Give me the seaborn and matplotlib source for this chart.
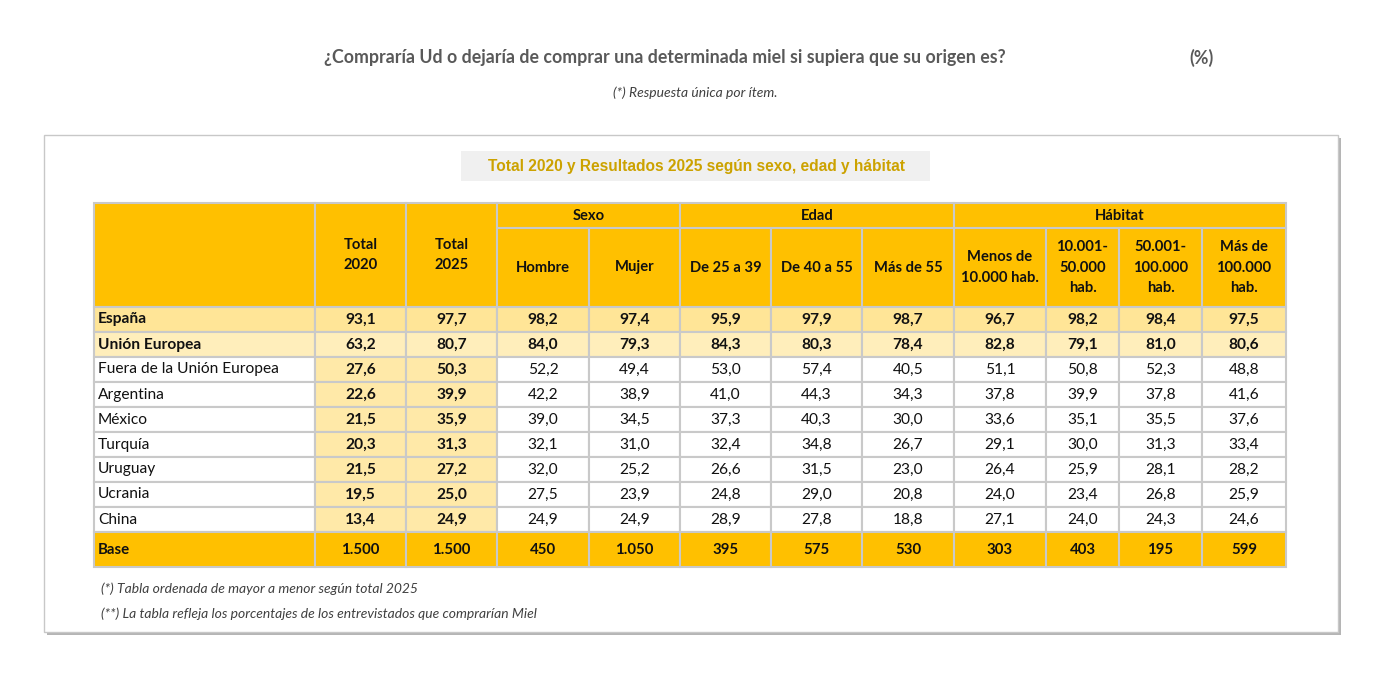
import matplotlib
matplotlib.use("Agg")
import matplotlib.pyplot as plt
from matplotlib.patches import Rectangle
import seaborn as sns

# Datos de la tabla
filas = ["España", "Unión Europea", "Fuera de la Unión Europea", "Argentina",
         "México", "Turquía", "Uruguay", "Ucrania", "China"]
total_2020 = [93.1, 63.2, 27.6, 22.6, 21.5, 20.3, 21.5, 19.5, 13.4]
total_2025 = [97.7, 80.7, 50.3, 39.9, 35.9, 31.3, 27.2, 25.0, 24.9]
hombre = [98.2, 84.0, 52.2, 42.2, 39.0, 32.1, 32.0, 27.5, 24.9]
mujer = [97.4, 79.3, 49.4, 38.9, 34.5, 31.0, 25.2, 23.9, 24.9]
edad_25_39 = [95.9, 84.3, 53.0, 41.0, 37.3, 32.4, 26.6, 24.8, 28.9]
edad_40_55 = [97.9, 80.3, 57.4, 44.3, 40.3, 34.8, 31.5, 29.0, 27.8]
edad_mas_55 = [98.7, 78.4, 40.5, 34.3, 30.0, 26.7, 23.0, 20.8, 18.8]
hab_menos_10 = [96.7, 82.8, 51.1, 37.8, 33.6, 29.1, 26.4, 24.0, 27.1]
hab_10_50 = [98.2, 79.1, 50.8, 39.9, 35.1, 30.0, 25.9, 23.4, 24.0]
hab_50_100 = [98.4, 81.0, 52.3, 37.8, 35.5, 31.3, 28.1, 26.8, 24.3]
hab_mas_100 = [97.5, 80.6, 48.8, 41.6, 37.6, 33.4, 28.2, 25.9, 24.6]
base = [1500, 1500, 450, 1050, 395, 575, 530, 303, 403, 195, 599]

columnas = ["Total\n2020", "Total\n2025", "Hombre", "Mujer", "De 25 a 39",
            "De 40 a 55", "Más de 55", "Menos de\n10.000 hab.",
            "10.001-\n50.000\nhab.", "50.001-\n100.000\nhab.", "Más de\n100.000\nhab."]
# (nombre, primera columna, columna final excluida)
grupos = [("Sexo", 2, 4), ("Edad", 4, 7), ("Hábitat", 7, 11)]

series = [total_2020, total_2025, hombre, mujer, edad_25_39, edad_40_55,
          edad_mas_55, hab_menos_10, hab_10_50, hab_50_100, hab_mas_100]

# Geometría (en píxeles)
bordes_x = [94, 315, 406, 497, 589, 680, 771, 862, 954, 1046, 1119, 1202, 1286]
y_cab1, y_cab2, y_datos = 203, 228, 307
alto_fila = 25
alto_base = 35

ORO = "#FFC000"
ESPANA = "#FFE597"
UE = "#FFEEBB"
TOTAL = "#FFE9A8"
LINEA = "#C9C9C9"
TEXTO = "#111111"

sns.set_style("white")
plt.rcParams['font.family'] = ['Lato', 'DejaVu Sans']

fig = plt.figure(figsize=(13.79, 6.74), dpi=100)
ax = fig.add_axes([0, 0, 1, 1])
ax.set_xlim(0, 1379)
ax.set_ylim(674, 0)
ax.axis("off")

# Título y nota
ax.text(665, 58, "¿Compraría Ud o dejaría de comprar una determinada miel si supiera que su origen es?",
        ha="center", va="center", fontsize=12.8, fontweight="bold", color="#595959")
ax.text(1201, 58, "(%)", ha="center", va="center", fontsize=12.8, fontweight="bold", color="#595959")
ax.text(695, 93, "(*) Respuesta única por ítem.", ha="center", va="center",
        fontsize=10, style="italic", color="#404040")

# Caja exterior con sombra
ax.add_patch(Rectangle((47, 138), 1294, 497, facecolor="#B5B5B5", edgecolor="none", zorder=0))
ax.add_patch(Rectangle((44, 135), 1294, 497, facecolor="white", edgecolor="#C8C8C8", lw=1, zorder=1))

# Subtítulo
ax.add_patch(Rectangle((461, 151), 469, 30, facecolor="#F0F0F0", edgecolor="none", zorder=2))
ax.text(696, 166, "Total 2020 y Resultados 2025 según sexo, edad y hábitat", ha="center", va="center",
        fontsize=11.2, fontweight="bold", color="#CCA200", zorder=3,
        family=["Liberation Sans", "DejaVu Sans"])


def celda(x0, x1, y0, y1, color, texto="", peso="normal", ha="center", tam=11.2):
    ax.add_patch(Rectangle((x0, y0), x1 - x0, y1 - y0, facecolor=color,
                           edgecolor=LINEA, lw=1.5, zorder=3))
    if texto:
        xt = (x0 + x1) / 2 if ha == "center" else x0 + 4
        ax.text(xt, (y0 + y1) / 2, texto, ha=ha, va="center", fontsize=tam,
                fontweight=peso, color=TEXTO, zorder=4, linespacing=1.55)


# Cabecera
celda(bordes_x[0], bordes_x[1], y_cab1, y_datos, ORO)
for j in range(2):
    celda(bordes_x[j + 1], bordes_x[j + 2], y_cab1, y_datos, ORO, columnas[j], "bold", tam=10.6)
for nombre, a, b in grupos:
    celda(bordes_x[a + 1], bordes_x[b + 1], y_cab1, y_cab2, ORO, nombre, "bold", tam=10.6)
for j in range(2, len(columnas)):
    celda(bordes_x[j + 1], bordes_x[j + 2], y_cab2, y_datos, ORO, columnas[j], "bold", tam=10.6)


def fmt(v):
    return f"{v:.1f}".replace(".", ",")


# Filas de datos
for i, nombre in enumerate(filas):
    y0 = y_datos + i * alto_fila
    y1 = y0 + alto_fila
    destacada = i < 2
    fondo = ESPANA if i == 0 else (UE if i == 1 else "white")
    celda(bordes_x[0], bordes_x[1], y0, y1, fondo, nombre,
          "bold" if destacada else "normal", ha="left")
    for j, serie in enumerate(series):
        if destacada:
            color, peso = fondo, "bold"
        elif j < 2:
            color, peso = TOTAL, "bold"
        else:
            color, peso = "white", "normal"
        celda(bordes_x[j + 1], bordes_x[j + 2], y0, y1, color, fmt(serie[i]), peso)

# Fila base
y0 = y_datos + len(filas) * alto_fila
celda(bordes_x[0], bordes_x[1], y0, y0 + alto_base, ORO, "Base", "bold", ha="left", tam=10.8)
for j, n in enumerate(base):
    celda(bordes_x[j + 1], bordes_x[j + 2], y0, y0 + alto_base, ORO,
          f"{n:,}".replace(",", "."), "bold", tam=10.8)

# Notas al pie
ax.text(101, 589, "(*) Tabla ordenada de mayor a menor según total 2025", ha="left", va="center",
        fontsize=10, style="italic", color="#404040")
ax.text(101, 614, "(**) La tabla refleja los porcentajes de los entrevistados que comprarían Miel",
        ha="left", va="center", fontsize=10, style="italic", color="#404040")

fig.savefig("out.png", dpi=100)
